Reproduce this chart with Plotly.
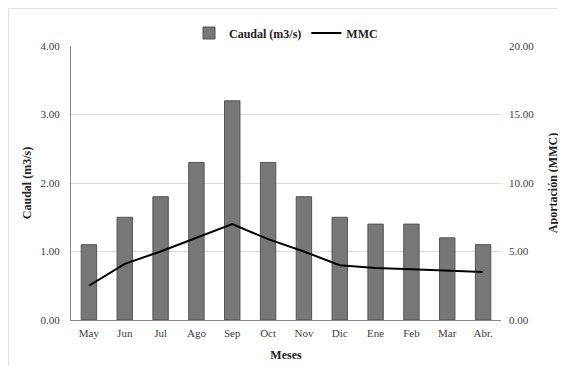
import plotly.graph_objects as go

meses = ["May", "Jun", "Jul", "Ago", "Sep", "Oct", "Nov", "Dic", "Ene", "Feb", "Mar", "Abr."]
caudal = [1.1, 1.5, 1.8, 2.3, 3.2, 2.3, 1.8, 1.5, 1.4, 1.4, 1.2, 1.1]
mmc = [2.5, 4.1, 5.0, 6.0, 7.0, 5.9, 5.0, 4.0, 3.8, 3.7, 3.6, 3.5]

FONT = "Liberation Serif, Times New Roman, serif"

fig = go.Figure()
fig.add_trace(go.Bar(
    x=meses, y=caudal, name="Caudal (m3/s)",
    marker=dict(color="#777777", line=dict(color="#555555", width=1)),
    yaxis="y",
))
fig.add_trace(go.Scatter(
    x=meses, y=mmc, name="MMC", mode="lines",
    line=dict(color="black", width=2),
    yaxis="y2",
))

fig.update_layout(
    width=558, height=358,
    margin=dict(l=63, r=65, t=38, b=46, autoexpand=False),
    paper_bgcolor="white", plot_bgcolor="white",
    font=dict(family=FONT, size=11, color="#404040"),
    bargap=0.57,
    showlegend=True,
    legend=dict(
        orientation="h", x=0.5, xanchor="center",
        yref="container", y=1 - 25 / 358, yanchor="middle",
        font=dict(family=FONT, size=12, color="#222222", weight="bold"),
        itemwidth=30, tracegroupgap=0, bgcolor="rgba(0,0,0,0)",
    ),
    xaxis=dict(
        showline=True, linecolor="#888888", linewidth=1,
        ticks="", showgrid=False, automargin=False, ticklabelstandoff=3,
        tickfont=dict(family=FONT, size=11, color="#404040"),
        title=dict(text="Meses", font=dict(family=FONT, size=12, color="#222222", weight="bold"), standoff=12),
    ),
    yaxis=dict(
        range=[0, 4], tickvals=[0, 1, 2, 3, 4], tickformat=".2f",
        showline=True, linecolor="#888888", linewidth=1,
        showgrid=True, gridcolor="#dddddd", gridwidth=1,
        zeroline=False, ticks="", automargin=False, ticklabelstandoff=8,
        tickfont=dict(family=FONT, size=11, color="#404040"),
        title=dict(text="Caudal (m3/s)", font=dict(family=FONT, size=12, color="#222222", weight="bold"), standoff=6),
    ),
    yaxis2=dict(
        range=[0, 20], tickvals=[0, 5, 10, 15, 20], tickformat=".2f",
        overlaying="y", side="right",
        showline=False, showgrid=False, zeroline=False, ticks="",
        automargin=False, ticklabelstandoff=7,
        tickfont=dict(family=FONT, size=11, color="#404040"),
        title=dict(text="Aportación (MMC)", font=dict(family=FONT, size=12, color="#222222", weight="bold"), standoff=15),
    ),
    shapes=[dict(
        type="rect", xref="paper", yref="paper",
        x0=-62.5 / 430, x1=1.2, y0=-0.3, y1=1 + 37.5 / 274,
        line=dict(color="#e2e2e2", width=1), fillcolor="rgba(0,0,0,0)", layer="below",
    )],
)

fig.write_html("out.html")
